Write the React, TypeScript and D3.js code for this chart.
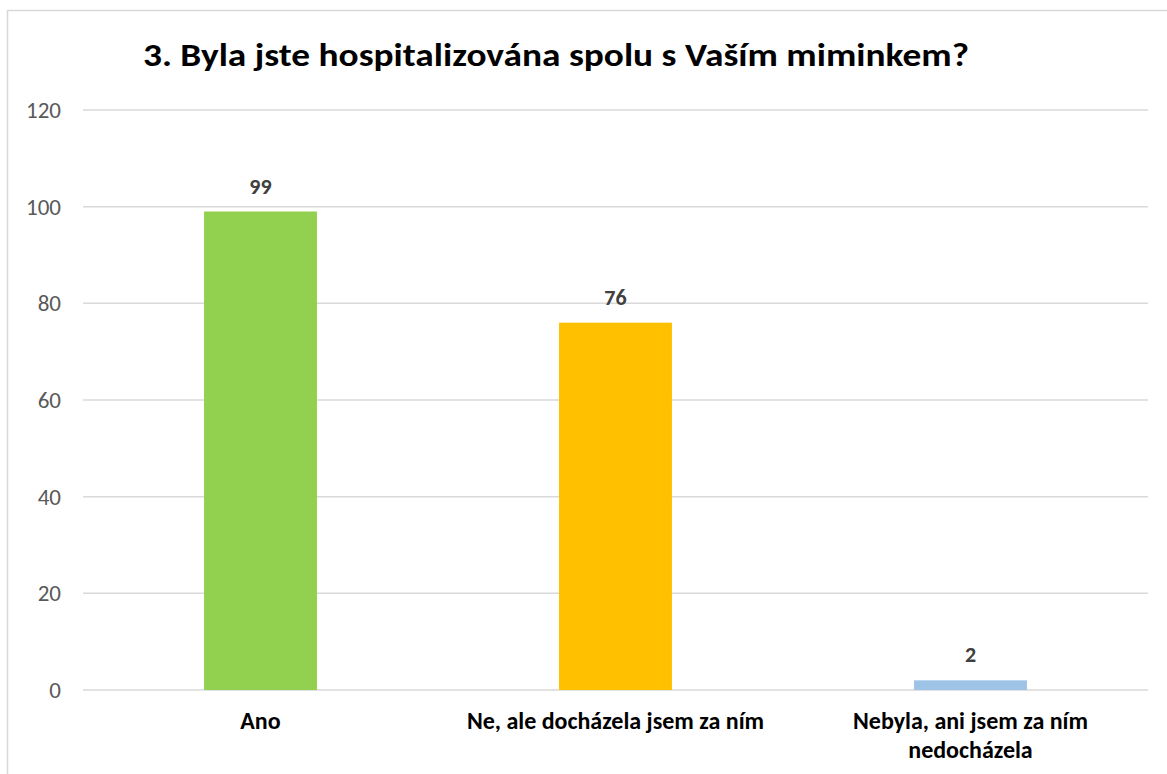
import React from "react";
import * as d3 from "d3";

const title = "3. Byla jste hospitalizována spolu s Vaším miminkem?";
const categories = ["Ano", "Ne, ale docházela jsem za ním", "Nebyla, ani jsem za ním nedocházela"];
const categoryLines = [["Ano"], ["Ne, ale docházela jsem za ním"], ["Nebyla, ani jsem za ním", "nedocházela"]];
const values = [99, 76, 2];
const colors = ["#92D050", "#FFC000", "#9DC3E6"];
const yTicks = [0, 20, 40, 60, 80, 100, 120];

const W = 1167;
const H = 774;
const plot = { left: 83, right: 1148, top: 110, bottom: 690 };
const FONT = "Carlito, Calibri, 'Open Sans', 'Liberation Sans', sans-serif";

export default function App() {
  const x = d3.scaleBand<string>().domain(categories).range([plot.left, plot.right]).paddingInner(0.682).paddingOuter(0.341);
  const y = d3.scaleLinear().domain([0, 120]).range([plot.bottom, plot.top]);
  const xc = (c: string) => (x(c) as number) + x.bandwidth() / 2;

  return (
    <svg width={W} height={H} style={{ position: "absolute", left: 0, top: 0, background: "#fff" }}>
      <rect x={7.5} y={10.5} width={W + 20} height={H + 20} fill="#fff" stroke="#D9D9D9" strokeWidth={1.5} />
      <text x={556} y={66} textAnchor="middle" fontFamily={FONT} fontWeight="bold" fontSize={33} fill="#000"
        textLength={826} lengthAdjust="spacingAndGlyphs">{title}</text>
      {yTicks.map((t) => (
        <g key={t}>
          <line x1={plot.left} x2={plot.right} y1={y(t)} y2={y(t)} stroke="#D9D9D9" strokeWidth={1.5} />
          <text x={61} y={y(t)} dy="0.35em" textAnchor="end" fontFamily={FONT} fontSize={23} fill="#595959">{t}</text>
        </g>
      ))}
      {categories.map((c, i) => (
        <g key={c}>
          <rect x={x(c)} y={y(values[i])} width={x.bandwidth()} height={y(0) - y(values[i])} fill={colors[i]} />
          <text x={xc(c)} y={y(values[i]) - 18} textAnchor="middle" fontFamily={FONT} fontWeight="bold" fontSize={22} fill="#404040">{values[i]}</text>
          {categoryLines[i].map((line, j) => (
            <text key={j} x={xc(c)} y={729 + j * 29} textAnchor="middle" fontFamily={FONT} fontWeight="bold" fontSize={24} fill="#000">{line}</text>
          ))}
        </g>
      ))}
    </svg>
  );
}
